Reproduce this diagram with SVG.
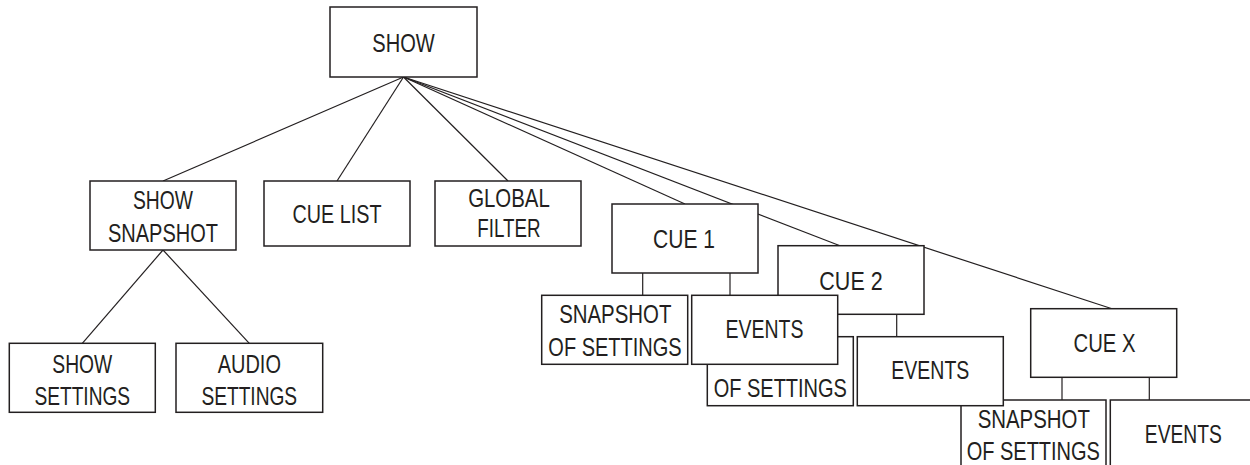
<svg xmlns="http://www.w3.org/2000/svg" width="1250" height="465" viewBox="0 0 1250 465">
<style>
.b{fill:#fff;stroke:#231f20;stroke-width:1.5}
.c{stroke:#231f20;stroke-width:1.2;fill:none}
text{font-family:"Liberation Sans Narrow","Liberation Sans",Arial,sans-serif;font-size:26.5px;fill:#231f20;text-anchor:middle}
</style>
<rect width="1250" height="465" fill="#fff"/>
<g id="connectors" class="c">
<line x1="403.5" y1="77" x2="163" y2="181"/>
<line x1="403.5" y1="77" x2="337" y2="181"/>
<line x1="403.5" y1="77" x2="508" y2="181"/>
<line x1="403.5" y1="77" x2="685" y2="204"/>
<line x1="403.5" y1="77" x2="840" y2="245.7"/>
<line x1="403.5" y1="77" x2="1112" y2="308.7"/>
<line x1="163" y1="250" x2="82.3" y2="343.3"/>
<line x1="163" y1="250" x2="249.3" y2="343.3"/>
<line x1="642.7" y1="273" x2="642.7" y2="295.3"/>
<line x1="730" y1="273" x2="730" y2="295.3"/>
<line x1="808.7" y1="314.3" x2="808.7" y2="336.7"/>
<line x1="896.7" y1="314.3" x2="896.7" y2="336.7"/>
<line x1="1062" y1="377.3" x2="1062" y2="400"/>
<line x1="1149.3" y1="377.3" x2="1149.3" y2="400"/>
</g>
<g id="show"><rect class="b" x="330" y="7" width="147" height="70"/><text x="403.5" y="51.5" textLength="62.5" lengthAdjust="spacingAndGlyphs">SHOW</text></g>
<g id="show-snapshot"><rect class="b" x="90" y="181" width="146" height="69"/><text x="163" y="209" textLength="60" lengthAdjust="spacingAndGlyphs">SHOW</text><text x="163" y="241.7" textLength="110" lengthAdjust="spacingAndGlyphs">SNAPSHOT</text></g>
<g id="cue-list"><rect class="b" x="264" y="181" width="146" height="65"/><text x="337" y="223" textLength="89" lengthAdjust="spacingAndGlyphs">CUE LIST</text></g>
<g id="global-filter"><rect class="b" x="435" y="181" width="146" height="65"/><text x="509" y="206.7" textLength="81.7" lengthAdjust="spacingAndGlyphs">GLOBAL</text><text x="509" y="236.7" textLength="63.3" lengthAdjust="spacingAndGlyphs">FILTER</text></g>
<g id="show-settings"><rect class="b" x="9.3" y="343.3" width="146" height="69"/><text x="82.3" y="372.7" textLength="60" lengthAdjust="spacingAndGlyphs">SHOW</text><text x="82.3" y="405" textLength="95.7" lengthAdjust="spacingAndGlyphs">SETTINGS</text></g>
<g id="audio-settings"><rect class="b" x="176" y="343.3" width="146.7" height="69"/><text x="249.3" y="372.7" textLength="63.3" lengthAdjust="spacingAndGlyphs">AUDIO</text><text x="249.3" y="405" textLength="95.7" lengthAdjust="spacingAndGlyphs">SETTINGS</text></g>
<g id="cue1"><rect class="b" x="612" y="204" width="146" height="69"/><text x="684" y="248.3" textLength="62" lengthAdjust="spacingAndGlyphs">CUE 1</text></g>
<g id="cue1-snapshot"><rect class="b" x="541.7" y="295.3" width="146" height="69"/><text x="615.3" y="323.3" textLength="112.3" lengthAdjust="spacingAndGlyphs">SNAPSHOT</text><text x="615" y="355.7" textLength="133.3" lengthAdjust="spacingAndGlyphs">OF SETTINGS</text></g>
<g id="cue2"><rect class="b" x="778" y="245.7" width="146" height="68.6"/><text x="851" y="290" textLength="63.3" lengthAdjust="spacingAndGlyphs">CUE 2</text></g>
<g id="cue2-snapshot"><rect class="b" x="707.3" y="336.7" width="146" height="69"/><text x="780.5" y="364.7" textLength="112.3" lengthAdjust="spacingAndGlyphs">SNAPSHOT</text><text x="780.3" y="397.2" textLength="133.3" lengthAdjust="spacingAndGlyphs">OF SETTINGS</text></g>
<g id="cue1-events"><rect class="b" x="691.7" y="295.3" width="146" height="69"/><text x="764.5" y="338.3" textLength="78" lengthAdjust="spacingAndGlyphs">EVENTS</text></g>
<g id="cuex"><rect class="b" x="1030.7" y="308.7" width="146" height="68.6"/><text x="1104.5" y="351.7" textLength="62" lengthAdjust="spacingAndGlyphs">CUE X</text></g>
<g id="cuex-snapshot"><rect class="b" x="961" y="400" width="145" height="69"/><text x="1033.8" y="427.8" textLength="112.3" lengthAdjust="spacingAndGlyphs">SNAPSHOT</text><text x="1033.3" y="460.4" textLength="133.3" lengthAdjust="spacingAndGlyphs">OF SETTINGS</text></g>
<g id="cue2-events"><rect class="b" x="857.3" y="336.7" width="146" height="69"/><text x="930.3" y="379" textLength="78" lengthAdjust="spacingAndGlyphs">EVENTS</text></g>
<g id="cuex-events"><rect class="b" x="1110.3" y="400" width="146" height="69"/><text x="1183.3" y="442.5" textLength="77" lengthAdjust="spacingAndGlyphs">EVENTS</text></g>
</svg>
